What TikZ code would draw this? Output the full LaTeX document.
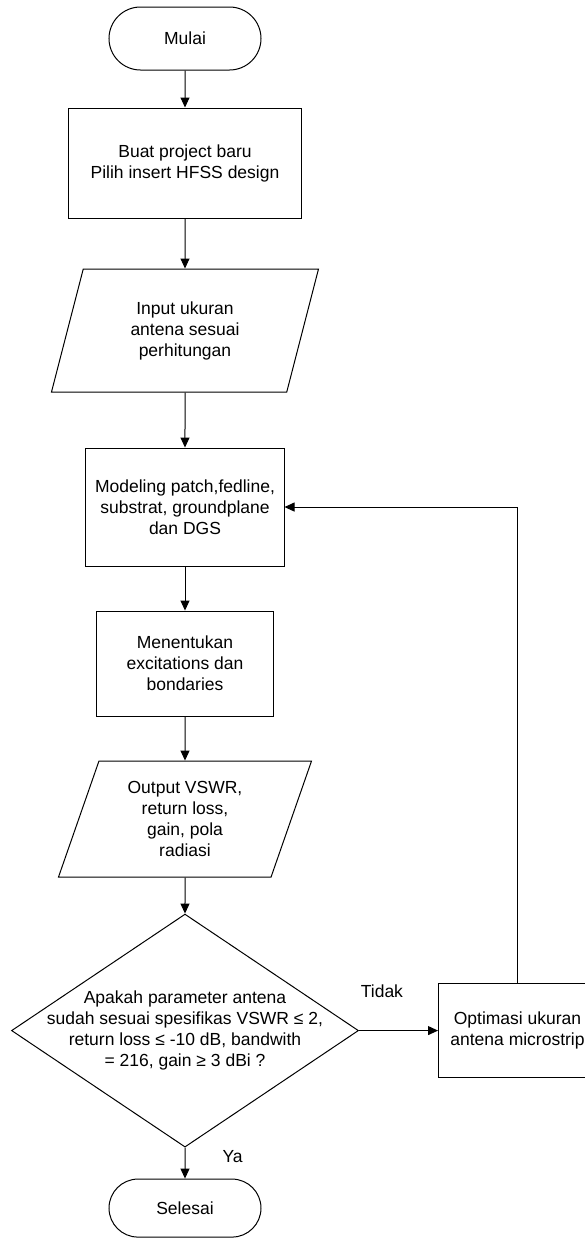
\documentclass[tikz,border=0pt]{standalone}
\usepackage{fontspec}
\setmainfont{Liberation Sans}
\usetikzlibrary{positioning,arrows.meta,shapes.geometric,shapes.misc}
\begin{document}
\begin{tikzpicture}[x=1bp,y=-1bp,>={Triangle[length=10bp,width=9bp]},line width=1bp,
  font=\fontsize{17.5bp}{21bp}\selectfont, every node/.style={inner sep=2bp},
  term/.style={draw,rounded rectangle,minimum width=156bp,minimum height=63bp},
  proc/.style={draw,align=center}, dec/.style={draw,diamond,minimum width=347bp,minimum height=233bp},
  io/.style={draw,trapezium,trapezium left angle=63,trapezium right angle=117,trapezium stretches body,align=center}]
  \useasboundingbox (0,0) rectangle (585,1241);
  \node[term](mulai) at (185,38.5){Mulai};
  \node[proc,minimum width=232bp,minimum height=110bp,below=37bp of mulai](buat){Buat project baru\\Pilih insert HFSS design};
  \node[io,minimum width=267bp,minimum height=123bp,below=50bp of buat](input){Input ukuran\\antena sesuai\\perhitungan};
  \node[proc,minimum width=198bp,minimum height=118bp,below=55bp of input](model){Modeling patch,fedline,\\substrat, groundplane\\dan DGS};
  \node[proc,minimum width=176bp,minimum height=105bp,below=44bp of model](tentu){Menentukan\\excitations dan\\bondaries};
  \node[io,minimum width=253bp,minimum height=116bp,below=44bp of tentu](output){Output VSWR,\\return loss,\\gain, pola\\radiasi};
  \node[dec,below=36bp of output](cek){};
  \node[align=center](cektxt) at (cek){Apakah parameter antena\\sudah sesuai spesifikas VSWR ≤ 2,\\return loss ≤ -10 dB, bandwith\\= 216, gain ≥ 3 dBi ?};
  \node[term,minimum height=58bp,below=31bp of cek](selesai){Selesai};
  \node[proc,minimum width=158bp,minimum height=94bp,right=79bp of cek](opt){Optimasi ukuran\\antena microstrip};
  \draw[->](mulai)--(buat);\draw[->](buat)--(input);\draw[->](input)--(model);
  \draw[->](model)--(tentu);\draw[->](tentu)--(output);\draw[->](output)--(cek);
  \draw[->](cek)--node[pos=0.29,above=30bp](tidak){Tidak}(opt);
  \draw[->](cek)--node[pos=0.3,right=35bp](ya){Ya}(selesai);
  \draw[->](opt)|-(model);
\end{tikzpicture}
\end{document}
